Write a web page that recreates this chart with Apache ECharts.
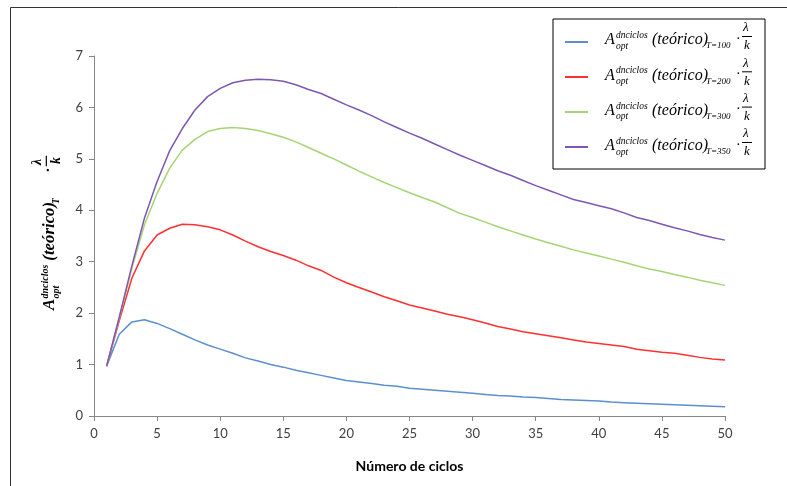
<!DOCTYPE html>
<html><head><meta charset="utf-8">
<script src="https://cdn.jsdelivr.net/npm/echarts@6/dist/echarts.min.js"></script>
<style>html,body{margin:0;padding:0;background:#fff}#c{width:787px;height:486px}</style>
</head><body><div id="c"></div>
<script>
const ciclos = [1,2,3,4,5,6,7,8,9,10,11,12,13,14,15,16,17,18,19,20,21,22,23,24,25,26,27,28,29,30,31,32,33,34,35,36,37,38,39,40,41,42,43,44,45,46,47,48,49,50];
const t100 = [0.97,1.59,1.83,1.87,1.80,1.70,1.59,1.48,1.38,1.30,1.22,1.13,1.07,1.00,0.95,0.89,0.84,0.79,0.74,0.69,0.66,0.63,0.60,0.58,0.54,0.52,0.50,0.48,0.46,0.44,0.42,0.40,0.39,0.37,0.36,0.34,0.32,0.31,0.30,0.29,0.27,0.26,0.25,0.24,0.23,0.22,0.21,0.20,0.19,0.18];
const t200 = [0.97,1.85,2.68,3.21,3.52,3.65,3.73,3.72,3.68,3.62,3.52,3.40,3.29,3.20,3.12,3.03,2.92,2.83,2.70,2.59,2.50,2.41,2.32,2.24,2.16,2.10,2.04,1.98,1.93,1.87,1.81,1.74,1.69,1.64,1.60,1.56,1.52,1.48,1.44,1.41,1.38,1.35,1.30,1.27,1.24,1.22,1.18,1.14,1.11,1.09];
const t300 = [0.97,1.90,2.87,3.72,4.33,4.82,5.17,5.38,5.53,5.59,5.61,5.59,5.55,5.49,5.42,5.33,5.22,5.11,5.00,4.88,4.76,4.65,4.54,4.44,4.34,4.25,4.16,4.05,3.94,3.86,3.77,3.68,3.60,3.52,3.44,3.37,3.30,3.23,3.17,3.11,3.05,2.99,2.92,2.86,2.81,2.75,2.70,2.64,2.59,2.54];
const t350 = [0.97,1.92,2.92,3.85,4.56,5.16,5.59,5.95,6.21,6.37,6.48,6.53,6.55,6.54,6.51,6.44,6.35,6.27,6.16,6.05,5.95,5.84,5.72,5.61,5.50,5.40,5.29,5.18,5.07,4.97,4.87,4.77,4.68,4.58,4.48,4.39,4.30,4.21,4.15,4.09,4.03,3.95,3.86,3.80,3.73,3.66,3.60,3.53,3.47,3.42];
const seriesNames = ['T=100','T=200','T=300','T=350'];
const seriesColors = ['#5B8FD0','#FF3030','#A6D475','#7F56B5'];
const xTitle = 'Número de ciclos';

const seriesData = [t100, t200, t300, t350];
const chart = echarts.init(document.getElementById('c'), null, {renderer:'canvas'});

const SERIF = '"Liberation Serif", "DejaVu Serif", serif';
function t(text, x, y, size, opts) {
  opts = opts || {};
  return {type:'text', x:x, y:y, style:{text:text, fontFamily:SERIF, fontSize:size,
    fontStyle: opts.upright ? 'normal' : 'italic', fontWeight: opts.bold ? 'bold' : 'normal',
    fill:'#000', textAlign: opts.align || 'left', textVerticalAlign:'middle'}};
}
function mathLabel(sub, s, bold) {
  return [
    t('A', 0, 0, 16*s, {bold}),
    t('dnciclos', 11*s, -4.5*s, 9.5*s, {bold}),
    t('opt', 11*s, 6*s, 9.5*s, {bold}),
    t('(teórico)', 47*s, 0, 16*s, {bold}),
    t(sub, 101*s, 6*s, 9*s, {bold}),
    t('·', 131*s, -1*s, 14*s, {bold, upright:true}),
    t('λ', 138*s, -12*s, 13*s, {bold}),
    {type:'line', shape:{x1:137*s, y1:-3.5*s, x2:147*s, y2:-3.5*s}, style:{stroke:'#000', lineWidth: bold?1.2:1}},
    t('k', 139*s, 6*s, 13*s, {bold})
  ];
}

const graphics = [
  {type:'line', shape:{x1:10.5, y1:7.5, x2:787, y2:7.5}, style:{stroke:'#333', lineWidth:1}, silent:true},
  {type:'line', shape:{x1:10.5, y1:7.5, x2:10.5, y2:486}, style:{stroke:'#333', lineWidth:1}, silent:true},
  {type:'group', x:50, y:310, rotation:Math.PI/2, children: mathLabel('T', 1.05, true)}
];
const legendCenters = [40, 75.3, 110.6, 146];
seriesNames.forEach((nm, i) => {
  graphics.push({type:'group', x:605, y:legendCenters[i], z:100, children: mathLabel(nm, 1.0, false)});
});

chart.setOption({
  animation:false,
  grid:{left:94, right:62, top:56, bottom:70},
  xAxis:{type:'value', min:0, max:50, interval:5,
    axisLine:{lineStyle:{color:'#868686', width:1}},
    axisTick:{show:true, length:5, lineStyle:{color:'#868686'}},
    splitLine:{show:false},
    axisLabel:{color:'#404040', fontFamily:'Lato', fontSize:13, margin:11},
    name:xTitle, nameLocation:'middle', nameGap:43,
    nameTextStyle:{fontFamily:'Lato', fontWeight:'bold', fontSize:14, color:'#000'}},
  yAxis:{type:'value', min:0, max:7, interval:1,
    axisLine:{show:true, lineStyle:{color:'#868686', width:1}},
    axisTick:{show:true, length:5, lineStyle:{color:'#868686'}},
    splitLine:{show:false},
    axisLabel:{color:'#404040', fontFamily:'Lato', fontSize:13, margin:11}},
  legend:{orient:'vertical', left:553, top:19, padding:[9,4,8,12], itemGap:7,
    itemWidth:23, itemHeight:2, icon:'rect', borderColor:'#000', borderWidth:1,
    data: seriesNames,
    formatter: () => '{s| }',
    textStyle:{fontSize:12, rich:{s:{width:168, height:28, lineHeight:28, fontSize:12}}}},
  series: seriesNames.map((nm, i) => ({
    name:nm, type:'line', symbol:'none', smooth:false,
    lineStyle:{color:seriesColors[i], width:1.5},
    itemStyle:{color:seriesColors[i]},
    data: ciclos.map((c, j) => [c, seriesData[i][j]])
  })),
  graphic: graphics
});
</script></body></html>
